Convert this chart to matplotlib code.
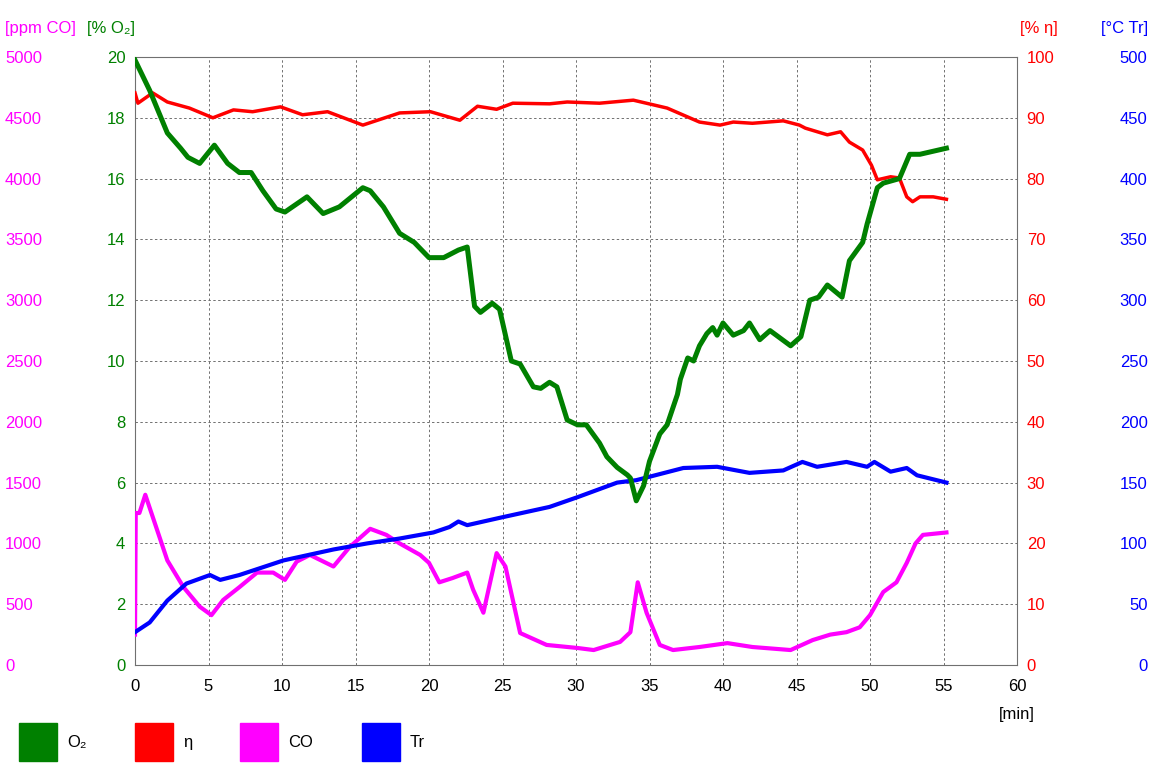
import matplotlib
matplotlib.use("Agg")
import matplotlib.pyplot as plt
from matplotlib.patches import Patch

plt.rcParams["font.family"] = ["Liberation Sans", "DejaVu Sans"]
plt.rcParams["font.size"] = 12

# O2 [%]
o2_t = [0, 1.0, 2.2, 3.1, 3.6, 4.4, 5.4, 6.3, 7.1, 7.9, 8.7, 9.6, 10.2, 11.7, 12.8, 13.9,
        15.5, 16.0, 16.9, 18.0, 19.0, 20.0, 21.0, 22.0, 22.6, 23.1, 23.5, 24.3, 24.8, 25.6,
        26.2, 27.1, 27.6, 28.2, 28.7, 29.4, 30.1, 30.7, 31.6, 32.1, 32.8, 33.5, 33.7, 34.1,
        34.6, 35.0, 35.7, 36.2, 36.9, 37.1, 37.6, 38.0, 38.4, 38.9, 39.3, 39.6, 40.0, 40.7,
        41.4, 41.8, 42.5, 43.2, 44.6, 45.3, 45.9, 46.5, 47.1, 48.1, 48.6, 49.5, 49.8, 50.5,
        50.9, 52.0, 52.7, 53.4, 55.2]
o2 = [19.9, 18.9, 17.5, 17.0, 16.7, 16.5, 17.1, 16.5, 16.2, 16.2, 15.6, 15.0, 14.9, 15.4,
      14.85, 15.07, 15.7, 15.6, 15.07, 14.2, 13.9, 13.4, 13.4, 13.65, 13.75, 11.8, 11.6,
      11.9, 11.7, 10.0, 9.9, 9.15, 9.1, 9.3, 9.15, 8.06, 7.9, 7.9, 7.3, 6.85, 6.5, 6.25,
      6.15, 5.4, 5.9, 6.7, 7.6, 7.9, 8.9, 9.4, 10.1, 10.0, 10.5, 10.9, 11.1, 10.85, 11.25,
      10.85, 11.0, 11.25, 10.7, 11.0, 10.5, 10.8, 12.0, 12.1, 12.5, 12.1, 13.3, 13.9, 14.5,
      15.7, 15.85, 16.0, 16.8, 16.8, 17.0]

# efficiency eta [%]
eta_t = [0, 0.2, 1.2, 2.2, 3.7, 5.3, 6.7, 8.0, 9.9, 11.4, 13.1, 15.5, 18.0, 20.1, 22.1,
         23.3, 24.6, 25.7, 28.2, 29.4, 31.6, 33.9, 36.2, 38.4, 39.8, 40.7, 42.0, 44.1,
         45.2, 45.6, 47.1, 48.0, 48.6, 49.5, 50.1, 50.5, 51.4, 52.0, 52.5, 52.9, 53.4,
         54.3, 55.2]
eta = [94.1, 92.4, 94.1, 92.6, 91.6, 90.0, 91.3, 91.0, 91.8, 90.5, 91.0, 88.8, 90.8, 91.0,
       89.6, 91.9, 91.4, 92.4, 92.3, 92.6, 92.4, 92.9, 91.6, 89.3, 88.8, 89.3, 89.1, 89.5,
       88.8, 88.3, 87.2, 87.7, 86.0, 84.7, 82.2, 79.8, 80.3, 80.1, 77.0, 76.2, 77.0, 77.0,
       76.6]

# CO [ppm]
co_t = [0, 0.05, 0.3, 0.7, 1.2, 2.2, 3.3, 4.4, 5.2, 6.0, 7.1, 8.3, 9.4, 10.2, 11.0, 11.9,
        13.5, 14.6, 16.0, 17.1, 18.0, 19.4, 20.0, 20.7, 21.6, 22.6, 23.0, 23.7, 24.6, 25.2,
        26.2, 28.0, 30.1, 31.2, 33.0, 33.7, 34.2, 34.8, 35.7, 36.6, 38.4, 40.3, 42.0,
        44.6, 46.1, 47.3, 48.4, 49.3, 50.0, 50.9, 51.8, 52.5, 53.1, 53.6, 55.2]
co = [250, 1250, 1250, 1400, 1220, 860, 640, 480, 410, 535, 640, 760, 760, 700, 850, 905,
      810, 970, 1120, 1070, 1000, 905, 840, 680, 715, 760, 620, 430, 920, 810, 263, 165,
      140, 123, 190, 270, 680, 430, 165, 123, 148, 180, 148, 123, 205, 250, 270, 310, 410,
      600, 680, 840, 1000, 1070, 1090]

# flue gas temperature Tr [°C]
tr_t = [0, 1, 2.2, 3.5, 5.1, 5.8, 7.1, 10.1, 13.5, 15.8, 18, 20.3, 21.4, 22, 22.6, 24.8,
        28.2, 30.1, 32.8, 34.1, 37.3, 39.6, 41.8, 44.1, 45.4, 46.4, 48.4, 49.8, 50.3, 51.4,
        52.5, 53.2, 55.2]
tr = [27, 35, 53, 67, 74, 70, 74, 86, 95, 100, 104, 109, 113.5, 118, 115, 121, 130, 138,
      150, 152, 162, 163, 158, 160, 167, 163, 167, 163, 167, 159, 162, 156, 150]

c_o2 = "#008000"
c_eta = "#ff0000"
c_co = "#ff00ff"
c_tr = "#0000ff"
grid_c = "#808080"

fig = plt.figure(figsize=(11.52, 7.68), dpi=100, facecolor="white")
ax = fig.add_axes([135 / 1152, 1 - 665 / 768, 882 / 1152, 608 / 768])

# host axis: grid, x axis and O2 scale
ax.set_xlim(0, 60)
ax.set_ylim(0, 20)
ax.set_xticks(range(0, 61, 5))
ax.set_yticks(range(0, 21, 2))
ax.grid(True, color="#707070", linestyle=(0, (2.5, 2.5)), linewidth=0.7)
for s in ax.spines.values():
    s.set_color("#707070")
ax.tick_params(axis="x", length=0, pad=10, labelcolor="black")
ax.tick_params(axis="y", length=0, pad=7, labelcolor=c_o2)

# CO scale, outer left, left aligned labels
ax_co = ax.twinx()
ax_co.set_ylim(0, 5000)
ax_co.yaxis.tick_left()
ax_co.set_yticks(range(0, 5001, 500))
ax_co.tick_params(axis="y", length=0, pad=93.6, labelcolor=c_co)
for lbl in ax_co.get_yticklabels():
    lbl.set_horizontalalignment("left")

# Tr scale, outer right, right aligned labels
ax_tr = ax.twinx()
ax_tr.set_ylim(0, 500)
ax_tr.set_yticks(range(0, 501, 50))
ax_tr.tick_params(axis="y", length=0, pad=94, labelcolor=c_tr)
for lbl in ax_tr.get_yticklabels():
    lbl.set_horizontalalignment("right")

# eta scale, inner right
ax_eta = ax.twinx()
ax_eta.set_ylim(0, 100)
ax_eta.set_yticks(range(0, 101, 10))
ax_eta.tick_params(axis="y", length=0, pad=7, labelcolor=c_eta)

# O2 line on its own axis so it is drawn on top
ax_o2 = ax.twinx()
ax_o2.set_ylim(0, 20)
ax_o2.set_yticks([])

for a in (ax_co, ax_tr, ax_eta, ax_o2):
    for s in a.spines.values():
        s.set_visible(False)

ax_tr.plot(tr_t, tr, color=c_tr, linewidth=3.0)
ax_co.plot(co_t, co, color=c_co, linewidth=3.0)
ax_eta.plot(eta_t, eta, color=c_eta, linewidth=2.5)
ax_o2.plot(o2_t, o2, color=c_o2, linewidth=3.6)

# axis headers
fig.text(5 / 1152, 1 - 28 / 768, "[ppm CO]", color=c_co, va="center", ha="left")
fig.text(87 / 1152, 1 - 28 / 768, "[% O₂]", color=c_o2, va="center", ha="left")
fig.text(1020 / 1152, 1 - 28 / 768, "[% η]", color=c_eta, va="center", ha="left")
fig.text(1148 / 1152, 1 - 28 / 768, "[°C Tr]", color=c_tr, va="center", ha="right")
fig.text(1017 / 1152, 1 - 715 / 768, "[min]", color="black", va="center", ha="center")

handles = [Patch(facecolor=c_o2, edgecolor=c_o2, label="O₂"),
           Patch(facecolor=c_eta, edgecolor=c_eta, label="η"),
           Patch(facecolor=c_co, edgecolor=c_co, label="CO"),
           Patch(facecolor=c_tr, edgecolor=c_tr, label="Tr")]
fig.legend(handles=handles, loc="center left", bbox_to_anchor=(19 / 1152, 26 / 768),
           ncol=4, frameon=False, handlelength=2.28, handleheight=3.1,
           handletextpad=0.6, columnspacing=2.9, borderpad=0, borderaxespad=0,
           fontsize=12)

fig.savefig("out.png", dpi=100, facecolor="white")
